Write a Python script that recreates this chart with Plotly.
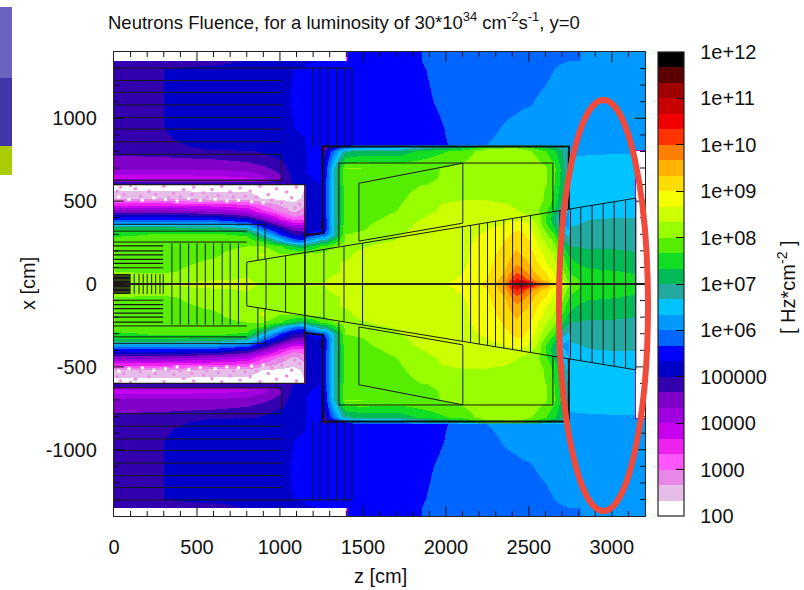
import numpy as np
import plotly.graph_objects as go

# ---------- data (log10 of fluence) ----------
z_cm = [0,300,600,800,900,1000,1080,1145,1155,1250,1265,1300,1395,1410,1480,1700,1900,2100,2250,2350,2420,2460,2500,2550,2600,2650,2700,2735,2750,2850,3000,3135,3147,3200]
x_cm = [1400,1352,1348,1300,1100,950,845,832,815,800,700,640,610,601,596,520,480,440,400,370,340,300,260,230,180,130,80,30,0]
log_flux = [
 [2.1,2.1,2.1,2.1,2.1,2.1,2.1,2.1,2.1,2.1,2.1,2.1,2.1, 5.5,5.5,5.55,5.7,5.83,5.83,5.85,5.85,5.85,5.85,5.87,5.9,5.92,5.93,5.95,5.97,6.02,6.1,6.17,6.17,6.2],
 [2.1,2.1,2.1,2.1,2.1,2.1,2.1,2.1,2.1,2.1,2.1,2.1,2.1, 5.5,5.5,5.55,5.7,5.83,5.83,5.85,5.85,5.85,5.85,5.87,5.9,5.92,5.93,5.95,5.97,6.02,6.1,6.17,6.17,6.2],
 [4.83,4.83,4.83,5.05,5.1,5.15,5.2,5.25,5.3,5.35,5.4,5.45,5.5,5.5,5.5,5.55,5.7,5.83,5.85,5.87,5.88,5.88,5.88,5.9,5.93,5.95,5.98,6.0,6.01,6.05,6.12,6.17,6.17,6.2],
 [4.83,5.0,5.15,5.2,5.25,5.3,5.33,5.38,5.42,5.45,5.47,5.5,5.5,5.5,5.5,5.55,5.68,5.8,5.85,5.88,5.9,5.9,5.9,5.92,5.95,6.0,6.05,6.08,6.1,6.15,6.2,6.22,6.22,6.25],
 [4.83,5.0,5.15,5.2,5.22,5.28,5.35,5.4,5.43,5.46,5.48,5.5,5.52,5.52,5.52,5.55,5.65,5.78,5.85,5.92,5.95,5.97,5.98,6.02,6.05,6.1,6.13,6.15,6.16,6.2,6.25,6.27,6.27,6.28],
 [4.83,5.0,5.12,5.18,5.2,5.25,5.33,5.38,5.42,5.46,5.48,5.5,5.52,5.52,5.52,5.54,5.6,5.75,5.92,6.02,6.06,6.08,6.1,6.12,6.15,6.18,6.2,6.22,6.23,6.25,6.27,6.3,6.3,6.3],
 [4.9,4.98,5.03,5.1,5.15,5.2,5.25,5.3,5.35,5.4,5.45,5.5,5.52,5.52,5.52,5.55,5.6,5.72,6.0,6.08,6.1,6.12,6.13,6.15,6.17,6.2,6.22,6.24,6.26,6.3,6.3,6.3,6.3,6.3],
 [4.85,4.95,5.05,5.1,5.15,5.2,5.25,5.3,5.35,5.38, 4.3,5.0,5.7,5.75,6.0,6.2,6.7,7.0,7.7,7.8,7.8,7.7,7.5,7.3,7.1,6.9,6.7,6.5, 6.3,6.3,6.3,6.3,6.3,6.3],
 [4.83,4.9,5.02,5.1,5.15,5.2,5.25,5.3,5.35,5.4, 4.6,5.4,6.3,6.35,6.5,6.6,7.1,7.5,8.05,8.1,8.1,8.0,7.9,7.7,7.5,7.2,6.9,6.6, 6.3,6.3,6.3,6.3,6.3,6.3],
 [4.75,4.8,4.9,4.95,5.05,5.2,5.25,5.3,5.35,5.4, 4.8,5.6,6.9,6.95,7.1,7.1,7.5,7.8,8.2,8.2,8.2,8.15,8.05,7.9,7.7,7.4,7.0,6.6, 6.32,6.32,6.32,6.32,2.1,2.1],
 [4.4,4.4,4.4,4.5,4.6,4.8,5.15,5.25,5.35,5.4, 5.3,6.2,8.0,8.0,8.0,7.9,7.95,8.1,8.25,8.25,8.2,8.2,8.2,8.15,8.05,7.75,7.2,6.6, 6.36,6.38,6.4,6.4,2.1,2.1],
 [3.8,3.8,3.85,3.95,4.2,4.6,5.1,5.2,5.3,5.4, 5.35,6.3,7.95,7.95,7.9,7.85,7.95,8.15,8.25,8.25,8.2,8.2,8.2,8.15,8.05,7.7,7.2,6.6, 6.37,6.4,6.42,6.42,2.1,2.1],
 [4.9,4.9,4.9,4.9,4.9,4.95,5.0,5.1,5.25,5.35, 5.35,6.3,7.9,7.9,7.85,7.85,8.0,8.2,8.25,8.25,8.2,8.2,8.2,8.15,8.05,7.7,7.2,6.6, 6.38,6.42,6.45,6.45,2.1,2.1],
 [4.9,4.9,4.9,4.9,4.9,4.95,5.0,5.1,5.25,5.35, 5.35,6.3,7.9,7.9,7.85,7.85,8.0,8.2,8.25,8.25,8.2,8.2,8.2,8.15,8.05,7.7,7.2,6.6, 6.38,6.42,6.45,6.45,2.1,2.1],
 [2.15,2.15,2.15,2.15,2.15,2.15,2.15,2.3,5.2,5.35, 5.35,6.3,7.85,7.85,7.8,7.85,8.05,8.2,8.25,8.25,8.2,8.2,8.2,8.15,8.0,7.65,7.15,6.6, 6.38,6.43,6.46,6.46,2.1,2.1],
 [2.6,2.6,2.5,2.5,2.3,2.25,2.2,2.4,5.2,5.35, 5.35,6.3,7.8,7.8,7.8,7.9,8.25,8.3,8.3,8.25,8.25,8.25,8.2,8.15,7.95,7.6,7.0,6.5, 6.4,6.45,6.5,6.5,2.1,2.1],
 [3.5,3.5,3.4,3.3,2.9,2.6,2.4,2.6,5.2,5.35, 5.35,6.3,7.8,7.8,7.8,7.95,8.3,8.4,8.4,8.35,8.3,8.3,8.25,8.1,7.9,7.5,6.9,6.4, 6.42,6.5,6.55,6.55,2.1,2.1],
 [4.5,4.5,4.3,4.0,3.4,2.9,2.6,2.8,5.2,5.35, 5.35,6.3,7.8,7.8,7.82,8.0,8.3,8.45,8.45,8.4,8.35,8.3,8.25,8.05,7.75,7.3,6.6,6.3, 6.45,6.55,6.6,6.6,2.1,2.1],
 [5.5,5.5,5.4,5.0,4.4,3.6,3.1,3.2,5.2,5.35, 5.35,6.3,7.8,7.8,7.85,8.1,8.38,8.5,8.5,8.45,8.5,8.5,8.4,8.2,7.7,7.1,6.4,6.25, 6.5,6.65,6.67,6.67,2.1,2.1],
 [6.3,6.3,6.2,5.9,5.1,4.3,3.7,3.8,5.2,5.3, 5.3,6.25,7.85,7.85,7.9,8.2,8.45,8.5,8.6,8.65,8.85,8.8,8.6,8.3,7.7,7.2,6.3,6.2, 6.6,6.7,6.75,6.72,2.1,2.1],
 [7.2,7.2,7.1,6.7,5.8,5.0,4.5,4.4,5.15,5.25, 5.25,6.2,7.95,7.95,7.95,8.25,8.45,8.55,8.65,8.75,8.95,8.9,8.7,8.4,7.9,7.4,6.5,6.3, 6.7,6.75,6.78,6.75,2.1,2.1],
 [7.6,7.7,7.7,7.6,6.6,5.6,5.0,4.9,5.3,5.7, 5.7,6.3,8.0,8.0,8.05,8.3,8.5,8.6,8.7,8.9,9.1,9.05,8.9,8.5,8.1,7.7,6.8,6.6, 6.8,6.8,6.8,6.8,2.1,2.1],
 [7.8,7.8,7.9,7.9,7.6,6.7,6.0,5.8,6.3,6.9, 6.9,7.3,8.05,8.05,8.25,8.35,8.5,8.6,8.75,9.0,9.2,9.15,9.0,8.65,8.3,7.95,7.2,6.8, 6.9,6.9,6.9,6.85,2.1,2.1],
 [8.0,7.9,7.9,8.0,8.0,7.7,7.3,7.1,7.2,7.7, 7.7,7.9,8.2,8.2,8.3,8.45,8.5,8.6,8.8,9.05,9.3,9.2,9.05,8.7,8.4,8.1,7.4,7.1, 7.0,6.95,6.95,6.9,2.1,2.1],
 [8.0,7.9,7.95,8.2,8.4,8.0,8.05,8.1,8.1,8.1, 8.1,8.2,8.3,8.3,8.4,8.5,8.5,8.6,8.85,9.15,9.4,9.3,9.15,8.9,8.6,8.3,7.7,7.3, 7.3,7.1,7.1,7.05,2.1,2.1],
 [8.0,7.9,8.05,8.25,8.2,8.2,8.2,8.2,8.25,8.25, 8.25,8.3,8.35,8.35,8.45,8.5,8.5,8.6,8.9,9.2,9.6,9.5,9.3,9.0,8.7,8.4,7.9,7.5, 7.4,7.2,7.15,7.1,2.1,2.1],
 [8.0,7.95,8.15,8.3,8.2,8.2,8.25,8.25,8.25,8.3, 8.3,8.3,8.35,8.4,8.45,8.5,8.55,8.65,8.95,9.3,9.9,9.8,9.5,9.2,9.0,8.6,8.1,7.7, 7.6,7.4,7.35,7.3,2.1,2.1],
 [8.1,8.2,8.3,8.35,8.25,8.25,8.3,8.3,8.3,8.3, 8.3,8.35,8.4,8.4,8.45,8.5,8.55,8.7,9.0,9.5,10.4,10.2,9.9,9.5,9.2,8.8,8.3,7.9, 7.8,7.5,7.45,7.4,2.1,2.1],
 [8.1,8.35,8.5,8.4,8.3,8.3,8.3,8.35,8.35,8.35, 8.35,8.4,8.4,8.4,8.45,8.5,8.6,8.75,9.1,9.7,10.9,11.5,10.9,10.2,9.8,9.2,8.7,8.2, 7.9,7.55,7.5,7.45,2.1,2.1],
]
band_colors = ["#ffffff","#e6bce8","#e887e8","#ff55ff","#ee22ee","#c800f0","#a000e0","#8000c8","#3300b0","#0000c8",
               "#0000ff","#0066ff","#0099ff","#00c4ff","#22aaa0","#00bb55","#11dd22","#55ee00","#99ff00","#ccff00",
               "#f5ff00","#ffdd00","#ffb300","#ff8000","#ff3300","#f00000","#c80000","#a00000","#5a0000","#000000"]
cbar_vals = [2,3,4,5,6,7,8,9,10,11,12]
cbar_text = ["100","1000","10000","100000","1e+06","1e+07","1e+08","1e+09","1e+10","1e+11","1e+12"]
axis_z_ticks = [0,500,1000,1500,2000,2500,3000]
axis_x_ticks = [-1000,-500,0,500,1000]
axis_x_text = ["-1000","-500","0","500","1000"]

# speckle seen in the near-empty band of the shielding
speck_pink_z = [40,130,210,300,360,420,480,540,590,650,700,760,820,880,930,980,1040,1100,60,160,250,330,400,470,560,630,720,790,860,950,1010,1070,1120,1090,1040,1130,970,20,100,280]
speck_pink_x = [585,575,560,590,545,570,585,550,570,590,555,580,560,590,540,575,555,585,540,530,540,520,525,540,525,535,525,530,525,505,490,520,480,460,450,430,470,560,595,510]
speck_white_z = [30,90,170,240,310,380,450,520,610,680,750,830,900]
speck_white_x = [525,510,505,520,510,500,515,505,510,500,505,495,490]

# detector outlines, cm
muon_x = [1303,1228,1156,1081,1005,935,858,783,626]
endcap_z = [1198,1241,1290,1343,1392,1434]
wedge_z_ends = [800,3145]
wedge_x_ends = [132,518]
wedge_bars = [800,916,1034,1150,1265,1386,1498,2100,2149,2201,2251,2299,2349,2402,2456,2510,2687,2751,2813,2881,2948,3014,3083,3145]
hcal_bars = [349,399,450,500,550,600,652,700,750]
ecal_rows = [230,200,176,149,125,98]
inner_rows = [8,16,24,32,40,48,56]
inner_bars = [122,151,176,200,227,251,277,297]
calo_rows = [(253,800),(319,800),(360,910)]
calo_bars = [(867,143),(910,150)]
barrel_z = [1150,1257,1257,2741,2741]
barrel_x = [295,307,830,830,452]
inner_rect_z = [1355,1355,2645,2645]
inner_rect_x = [229,730,730,436]
trap_z = [1476,1476,2102,2102,1476]
trap_x = [259,608,729,367,259]
z_major = [500,1000,1500,2000,2500,3000]
z_minor = [100,200,300,400,600,700,800,900,1100,1200,1300,1400,1600,1700,1800,1900,2100,2200,2300,2400,2600,2700,2800,2900,3100]
x_major = [-1000,-500,0,500,1000]
x_minor = [-1300,-1200,-1100,-900,-800,-700,-600,-400,-300,-200,-100,100,200,300,400,600,700,800,900,1100,1200,1300]
major_len_cm = 60
minor_len_cm = 30

# ---------- build ----------
zvals = np.array(log_flux, dtype=float)
half = zvals[::-1]                       # x ascending from 0
full = np.vstack([half[:0:-1], half])
xa = np.array(x_cm[::-1], dtype=float)
xfull = np.concatenate([-xa[:0:-1], xa])

n = len(band_colors)
cscale = []
for i, c in enumerate(band_colors):
    cscale += [[i / n, c], [(i + 1) / n, c]]

fig = go.Figure()
fig.add_trace(go.Heatmap(
    x=z_cm, y=xfull, z=full, zmin=2, zmax=12, zsmooth="best", colorscale=cscale, hoverinfo="skip",
    colorbar=dict(x=(658 - 114) / 531, xanchor="left", xpad=0, ypad=0, y=0.5, yanchor="middle", len=1, lenmode="fraction",
                  thickness=26, thicknessmode="pixels", outlinecolor="#222", outlinewidth=1.2,
                  tickmode="array", tickvals=cbar_vals, ticktext=["\u00a0\u00a0" + t for t in cbar_text],
                  ticks="inside", ticklen=8, tickcolor="#111", tickwidth=1,
                  tickfont=dict(family="Liberation Sans", size=20, color="#111")),
))

def speck(zs, xs, color):
    for sign in (1, -1):
        fig.add_trace(go.Scatter(x=zs, y=[sign * v for v in xs], mode="markers", hoverinfo="skip", showlegend=False,
                                 marker=dict(symbol="square", size=3, color=color, line_width=0)))

speck(speck_pink_z, speck_pink_x, "#ee90e8")
speck(speck_white_z, speck_white_x, "#ffffff")

def seg(zs, xs, width=1.0, color="#1a1a1a"):
    fig.add_trace(go.Scatter(x=zs, y=xs, mode="lines", line=dict(color=color, width=width),
                             hoverinfo="skip", showlegend=False))

def both(zs, xs, width=1.0, color="#1a1a1a"):
    seg(list(zs), list(xs), width, color)
    seg(list(zs), [-v for v in xs], width, color)

def wedge_edge(z):
    return float(np.interp(z, wedge_z_ends, wedge_x_ends))

for v in muon_x:
    both([0, 1434 if v == muon_x[0] else 1010], [v, v])
both([1010, 1010], [626, 783])
for v in endcap_z:
    both([v, v], [830, 1303])
both(wedge_z_ends, wedge_x_ends)
for v in wedge_bars:
    e = wedge_edge(v)
    seg([v, v], [-e, e], 1.0)
both([0, 1150], [600, 600], 1.2)
seg([1150, 1150], [-600, 600], 1.4)
both(barrel_z, barrel_x, 2.0, "#111")
both(inner_rect_z, inner_rect_x)
both(trap_z, trap_x)
for v, end in calo_rows:
    both([0, end], [v, v])
for v, low in calo_bars:
    both([v, v], [low, 360])
for v in hcal_bars:
    seg([v, v], [-245, 245], 1.0)
for v in ecal_rows:
    both([0, 296], [v, v], 1.2)
for v in inner_rows:
    both([0, 100], [v, v], 1.4)
for v in inner_bars:
    seg([v, v], [-60, 60], 1.0)
seg([0, 3200], [0, 0], 2.2, "#222")

# axis tick marks, inside on all four sides
def tick_trace(vals, length, horizontal):
    a, b = [], []
    for v in vals:
        if horizontal:   # ticks on the z axis (top and bottom)
            a += [v, v, None, v, v, None]
            b += [-1400, -1400 + length, None, 1400, 1400 - length, None]
        else:            # ticks on the x axis (left and right)
            a += [0, length, None, 3200, 3200 - length, None]
            b += [v, v, None, v, v, None]
    fig.add_trace(go.Scatter(x=a, y=b, mode="lines", line=dict(color="#111", width=1),
                             hoverinfo="skip", showlegend=False))

tick_trace(z_major, major_len_cm, True)
tick_trace(z_minor, minor_len_cm, True)
tick_trace(x_major, major_len_cm, False)
tick_trace(x_minor, minor_len_cm, False)

font = dict(family="Liberation Sans", size=20, color="#111")
axis_common = dict(showgrid=False, zeroline=False, ticks="",
                   mirror=True, showline=True, linecolor="#222", linewidth=1.4,
                   tickfont=font, layer="above traces", exponentformat="none")
fig.update_xaxes(range=[0, 3200], tickmode="array", tickvals=axis_z_ticks, ticklabelstandoff=13, **axis_common)
fig.update_yaxes(range=[-1400, 1400], tickmode="array", tickvals=axis_x_ticks, ticktext=axis_x_text,
                 ticklabelstandoff=12, **axis_common)

W, H = 804, 590
L, R, T, B = 114, 645, 52, 516
def px(x): return (x - L) / (R - L)
def py(y): return (B - y) / (B - T)

fig.update_layout(
    width=W, height=H, margin=dict(l=L, r=W - R, t=T, b=H - B), autosize=False,
    paper_bgcolor="white", plot_bgcolor="white", showlegend=False,
    font=font,
    annotations=[
        dict(text="Neutrons Fluence, for a luminosity of 30*10<sup>34</sup> cm<sup>-2</sup>s<sup>-1</sup>, y=0",
             x=px(343.5), y=py(21), xref="paper", yref="paper", showarrow=False, xanchor="center", yanchor="middle",
             font=dict(family="Liberation Sans", size=18.5, color="#111")),
        dict(text="z [cm]", x=px(380), y=py(576), xref="paper", yref="paper", showarrow=False,
             xanchor="center", yanchor="middle", font=font),
        dict(text="x [cm]", x=px(28), y=py(284), xref="paper", yref="paper", showarrow=False, textangle=-90,
             xanchor="center", yanchor="middle", font=font),
        dict(text="[ Hz*cm<sup>-2</sup> ]", x=px(786), y=py(287), xref="paper", yref="paper", showarrow=False, textangle=-90,
             xanchor="center", yanchor="middle", font=font),
    ],
    shapes=[
        dict(type="rect", xref="paper", yref="paper", x0=px(0), x1=px(12), y0=py(7), y1=py(78), fillcolor="#6a63c0", line_width=0),
        dict(type="rect", xref="paper", yref="paper", x0=px(0), x1=px(12), y0=py(78), y1=py(146), fillcolor="#4035ab", line_width=0),
        dict(type="rect", xref="paper", yref="paper", x0=px(0), x1=px(12), y0=py(146), y1=py(175), fillcolor="#aacc00", line_width=0),
        dict(type="circle", xref="paper", yref="paper", x0=px(559), x1=px(648), y0=py(100), y1=py(511),
             line=dict(color="#f04a3c", width=6), fillcolor="rgba(0,0,0,0)"),
    ],
)
fig.write_html("out.html", config={"displayModeBar": False},
               post_script="document.body.style.margin='0';document.body.style.overflow='hidden';")
